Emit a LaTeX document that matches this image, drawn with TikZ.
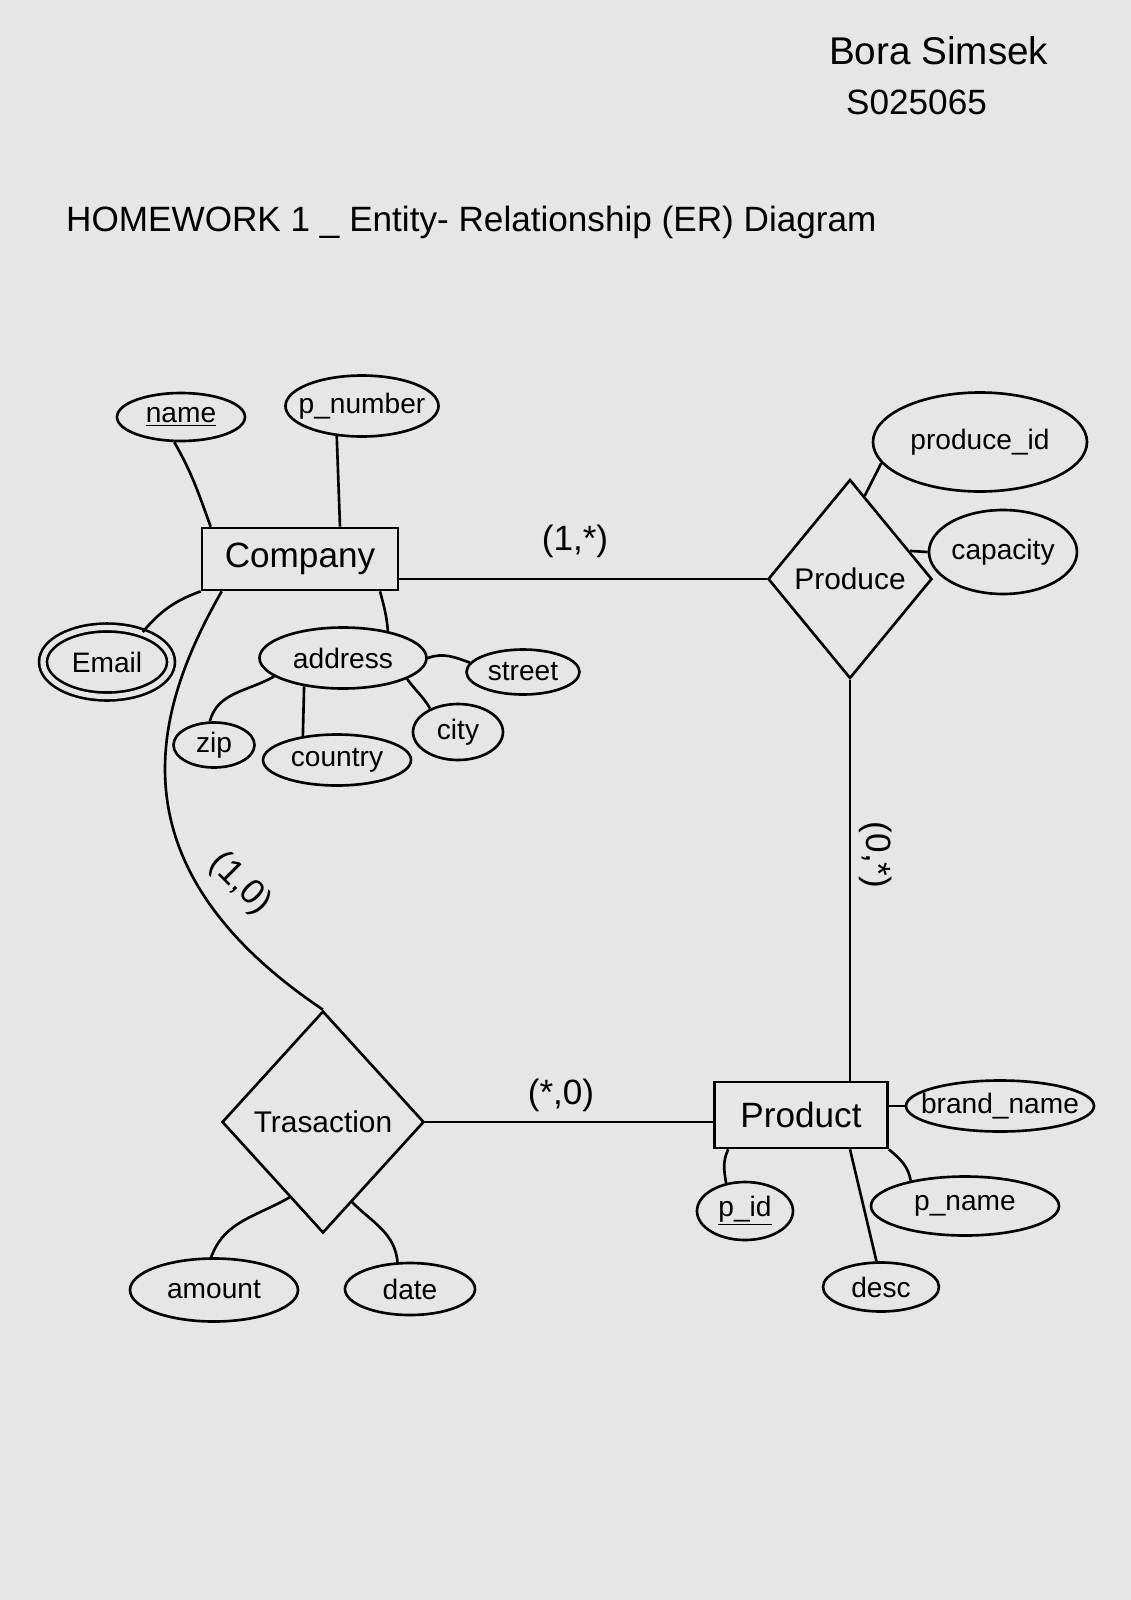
\documentclass[tikz,border=0pt]{standalone}
\usepackage{fontspec}
\setmainfont{Liberation Sans}
\usetikzlibrary{shapes.geometric}

\definecolor{paper}{HTML}{E6E6E6}

\begin{document}
\begin{tikzpicture}[x=0.02cm, y=-0.02cm,
    line width=1.5pt,
    hand/.style = {
      font = \fontsize{20}{24}\selectfont
    },
    card/.style = {
      font = \fontsize{20}{24}\selectfont
    },
    entity/.style 2 args = {
      draw,
      rectangle,
      inner sep = 0pt,
      minimum width = #1*0.02cm,
      minimum height = #2*0.02cm,
      font = \fontsize{20}{24}\selectfont
    },
    rel/.style 2 args = {
      draw,
      diamond,
      inner sep = 0pt,
      minimum width = #1*0.02cm,
      minimum height = #2*0.02cm,
      font = \fontsize{17}{20}\selectfont
    },
    attr/.style 2 args = {
      draw,
      ellipse,
      inner sep = 0pt,
      inner xsep = -8pt,
      minimum width = #1*0.02cm,
      minimum height = #2*0.02cm,
      font = \fontsize{16}{19}\selectfont
    }
  ]
  \useasboundingbox[fill=paper] (0,0) rectangle (1131,1600);

  \node[font=\fontsize{22}{26}\selectfont, anchor=west] (author) at (822,51) {Bora Simsek};
  \node[hand, anchor=west] (id) at (839,102) {S025065};
  \node[hand, anchor=west] (title) at (59,222) {HOMEWORK 1 \_ Entity- Relationship (ER) Diagram};

  \node[entity={196}{62}] (company) at (300,559) {Company};
  \node[entity={173}{66}] (product) at (801,1115) {Product};
  \node[rel={164}{199}] (produce) at (850,579) {Produce};
  \node[rel={202}{222}] (trans) at (323,1122) {Trasaction};

  \node[attr={128}{48}] (name) at (181,417) {\underline{name}};
  \node[attr={153}{61}] (pnumber) at (362,406) {p\_number};
  \node[attr={128}{69}, double=paper, double distance=3pt] (email) at (107,662) {Email};
  \node[attr={167}{61}] (address) at (343,658) {address};
  \node[attr={113}{45}] (street) at (523,672) {street};
  \node[attr={90}{56}] (city) at (458,732) {city};
  \node[attr={81}{45}] (zip) at (214,745) {zip};
  \node[attr={148}{51}] (country) at (337,760) {country};
  \node[attr={214}{99}] (produceid) at (980,442) {produce\_id};
  \node[attr={148}{84}] (capacity) at (1003,552) {capacity};
  \node[attr={188}{51}] (brandname) at (1000,1106) {brand\_name};
  \node[attr={96}{58}] (pid) at (745,1211) {\underline{p\_id}};
  \node[attr={188}{59}] (pname) at (965,1206) {p\_name};
  \node[attr={116}{49}] (desc) at (881,1287) {desc};
  \node[attr={168}{63}] (amount) at (214,1290) {amount};
  \node[attr={130}{52}] (date) at (410,1289) {date};

  \draw (name.-105) to[out=-60, in=110] ([xshift=0.2cm]company.north west);
  \draw (pnumber.-130) -- ([xshift=0.8cm]company.north);
  \draw (email.40) to[out=50, in=-160] (company.south west);
  \draw (company.-22) to[out=-75, in=95] (address.31);
  \draw (address.east) to[out=20, in=160] (street.170);
  \draw (address.-18) to[out=-55, in=120] (city.140);
  \draw (address.-165) to[out=-150, in=75] (zip.100);
  \draw (address.-144) -- (country.145);

  \draw (produce.80) -- (produceid.192);
  \draw (produce.25) -- (capacity.west);
  \draw (produce.west -| company.east) -- (produce.west);
  \draw (produce.south) -- (produce.south |- product.north);

  \draw (product.east |- brandname.west) -- (brandname.west);
  \draw ([xshift=0.3cm]product.south west) to[out=-115, in=100] (pid.124);
  \draw (produce.south |- product.south) -- (desc.100);
  \draw (product.south east) to[out=-40, in=100] (pname.155);

  \draw (trans.east) -- (trans.east -| product.west);
  \draw ([xshift=0.42cm]company.south west) .. controls (160,700) and (100,860) .. (trans.north);
  \draw (trans.-114) to[out=-150, in=70] (amount.95);
  \draw (trans.-70) to[out=-45, in=95] (date.115);

  \node[card] (c1) at (575,541) {(1,*)};
  \node[card, rotate=-90] (c2) at (876,855) {(0,*)};
  \node[card] (c3) at (561,1095) {(*,0)};
  \node[card, rotate=-45] (c4) at (240,884) {(1,0)};
\end{tikzpicture}
\end{document}
